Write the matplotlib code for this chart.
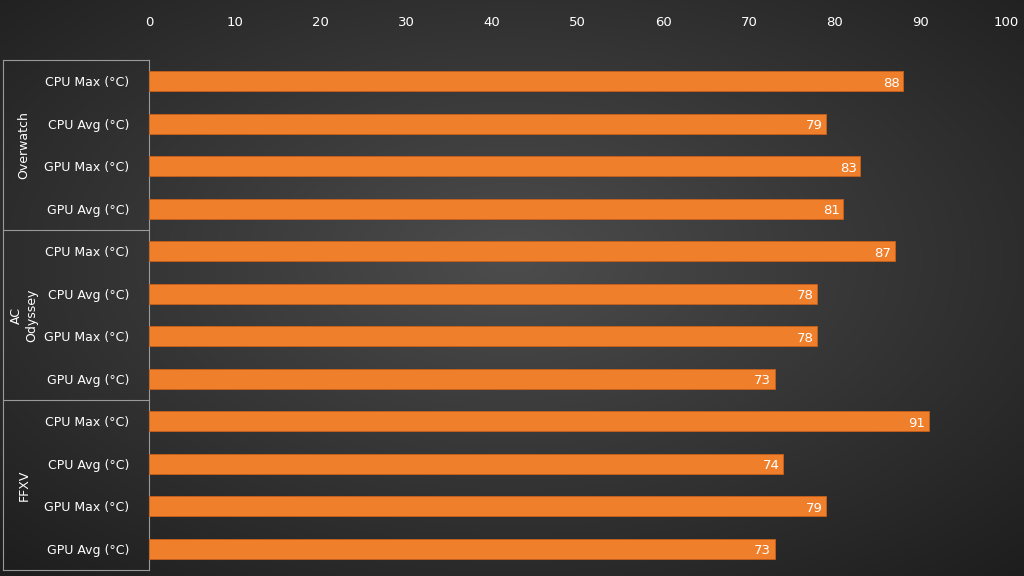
import numpy as np
import matplotlib
matplotlib.use("Agg")
import matplotlib.pyplot as plt

games = ["Overwatch", "AC\nOdyssey", "FFXV"]
metrics = ["CPU Max (°C)", "CPU Avg (°C)", "GPU Max (°C)", "GPU Avg (°C)"]
values = [88, 79, 83, 81, 87, 78, 78, 73, 91, 74, 79, 73]
xticks = [0, 10, 20, 30, 40, 50, 60, 70, 80, 90, 100]

W, H = 1024, 576
fig = plt.figure(figsize=(W/100, H/100), dpi=100)

bg = fig.add_axes([0, 0, 1, 1])
yy, xx = np.mgrid[0:H, 0:W]
r = np.sqrt(((xx - W*0.5)/W)**2 + ((yy - H*0.45)/H)**2)
g = np.clip(0.30 - 0.25*r, 0.1, 1)
bg.imshow(np.dstack([g, g, g]), aspect="auto", extent=[0, 1, 0, 1])
bg.set_xlim(0, 1); bg.set_ylim(0, 1); bg.axis("off")

ax = fig.add_axes([149/W, 6/H, (1006-149)/W, 510/H])
ax.patch.set_alpha(0)
n = len(values)
ys = np.arange(n)
ax.barh(ys, values, height=0.47, color="#f07f2c", edgecolor="#c9601a", linewidth=0.6, zorder=3)
for y, v in zip(ys, values):
    ax.text(v - 0.4, y + 0.05, str(v), color="white", ha="right", va="center", fontsize=9.5, zorder=4)
ax.set_ylim(n - 0.5, -0.5)
ax.set_xlim(0, 100)
ax.set_xticks(xticks)
ax.xaxis.tick_top()
ax.tick_params(axis="x", colors="white", labelsize=9.5, length=0, pad=22)
ax.set_yticks(ys)
ax.set_yticklabels(metrics * 3)
ax.tick_params(axis="y", colors="white", labelsize=9, length=0, pad=14)
for s in ax.spines.values():
    s.set_visible(False)

lc = "#9a9a9a"
x0 = 3/W; x1 = 149/W
for k in range(4):
    bg.plot([x0, x1], [1 - (60 + k*170)/H]*2, color=lc, lw=0.8)
bg.plot([x0, x0], [1 - 60/H, 1 - 570/H], color=lc, lw=0.8)
bg.plot([x1, x1], [1 - 60/H, 1 - 570/H], color=lc, lw=0.8)
for k, gname in enumerate(games):
    yc = 1 - (60 + 85 + k*170)/H
    bg.text(24/W, yc, gname, rotation=90, color="white", ha="center", va="center", fontsize=9)

fig.savefig("out.png", dpi=100)
